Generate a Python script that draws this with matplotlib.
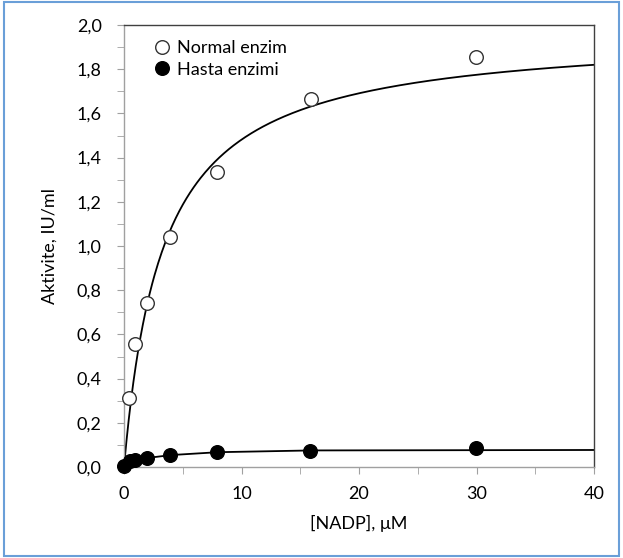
import numpy as np
import matplotlib
matplotlib.use("Agg")
import matplotlib.pyplot as plt
from matplotlib.ticker import MultipleLocator, FuncFormatter
from matplotlib.patches import Rectangle

# Data
normal_x = [0.43, 0.94, 1.96, 3.9, 7.9, 15.9, 29.96]
normal_y = [0.312, 0.557, 0.742, 1.04, 1.335, 1.665, 1.855]
hasta_x = [0.0, 0.5, 0.94, 1.96, 3.9, 7.9, 15.8, 29.96]
hasta_y = [0.005, 0.027, 0.032, 0.040, 0.054, 0.068, 0.074, 0.086]

# Michaelis-Menten fit for normal enzyme
normal_vmax = 1.97
normal_km = 3.3
# fitted line of patient enzyme
hasta_line_x = [0, 0.5, 1, 2, 4, 8, 16, 40]
hasta_line_y = [0.0, 0.027, 0.033, 0.041, 0.054, 0.067, 0.075, 0.077]

series_labels = ["Normal enzim", "Hasta enzimi"]
x_label = "[NADP], \u03bcM"
y_label = "Aktivite, IU/ml"

plt.rcParams['font.family'] = ['Lato', 'DejaVu Sans']

fig = plt.figure(figsize=(6.23, 5.58), dpi=100)
ax = fig.add_axes([124/623, 1-467/558, (594-124)/623, (467-25)/558])

xf = np.linspace(0, 40, 400)
ax.plot(xf, normal_vmax * xf / (normal_km + xf), color='black', lw=1.3, zorder=2)
ax.plot(hasta_line_x, hasta_line_y, color='black', lw=1.3, zorder=2)

ax.plot(normal_x, normal_y, 'o', ms=9.8, mfc='white', mec='#333333', mew=1.0,
        label=series_labels[0], zorder=3, clip_on=False)
ax.plot(hasta_x, hasta_y, 'o', ms=9.8, mfc='black', mec='black',
        label=series_labels[1], zorder=3, clip_on=False)

ax.set_xlim(0, 40)
ax.set_ylim(0, 2.0)
ax.xaxis.set_major_locator(MultipleLocator(10))
ax.xaxis.set_minor_locator(MultipleLocator(5))
ax.yaxis.set_major_locator(MultipleLocator(0.2))
ax.yaxis.set_minor_locator(MultipleLocator(0.1))
ax.yaxis.set_major_formatter(FuncFormatter(lambda v, p: f"{v:.1f}".replace('.', ',')))

for s in ['left', 'bottom']:
    ax.spines[s].set_color('#a0a0a0')
for s in ['top', 'right']:
    ax.spines[s].set_color('#404040')
for s in ax.spines.values():
    s.set_linewidth(1.0)

ax.tick_params(axis='both', which='both', direction='out', color='#a0a0a0',
               labelsize=13, labelcolor='black')
ax.tick_params(axis='both', which='major', length=5)
ax.tick_params(axis='both', which='minor', length=5)
ax.tick_params(axis='y', which='major', pad=11)
ax.tick_params(axis='x', which='major', pad=9)

ax.set_xlabel(x_label, fontsize=13, labelpad=9)
ax.set_ylabel(y_label, fontsize=13, labelpad=14)

leg = ax.legend(loc='upper left', bbox_to_anchor=(0.035, 0.99), frameon=False,
                fontsize=13, handletextpad=0.25, borderaxespad=0.2,
                labelspacing=0.3, handlelength=1.2)

fig.patches.append(Rectangle((4/623, 1-556/558), (619-4)/623, (556-2)/558,
                             transform=fig.transFigure, fill=False,
                             edgecolor='#6a9fd8', lw=1.5))

fig.savefig("out.png", dpi=100)
